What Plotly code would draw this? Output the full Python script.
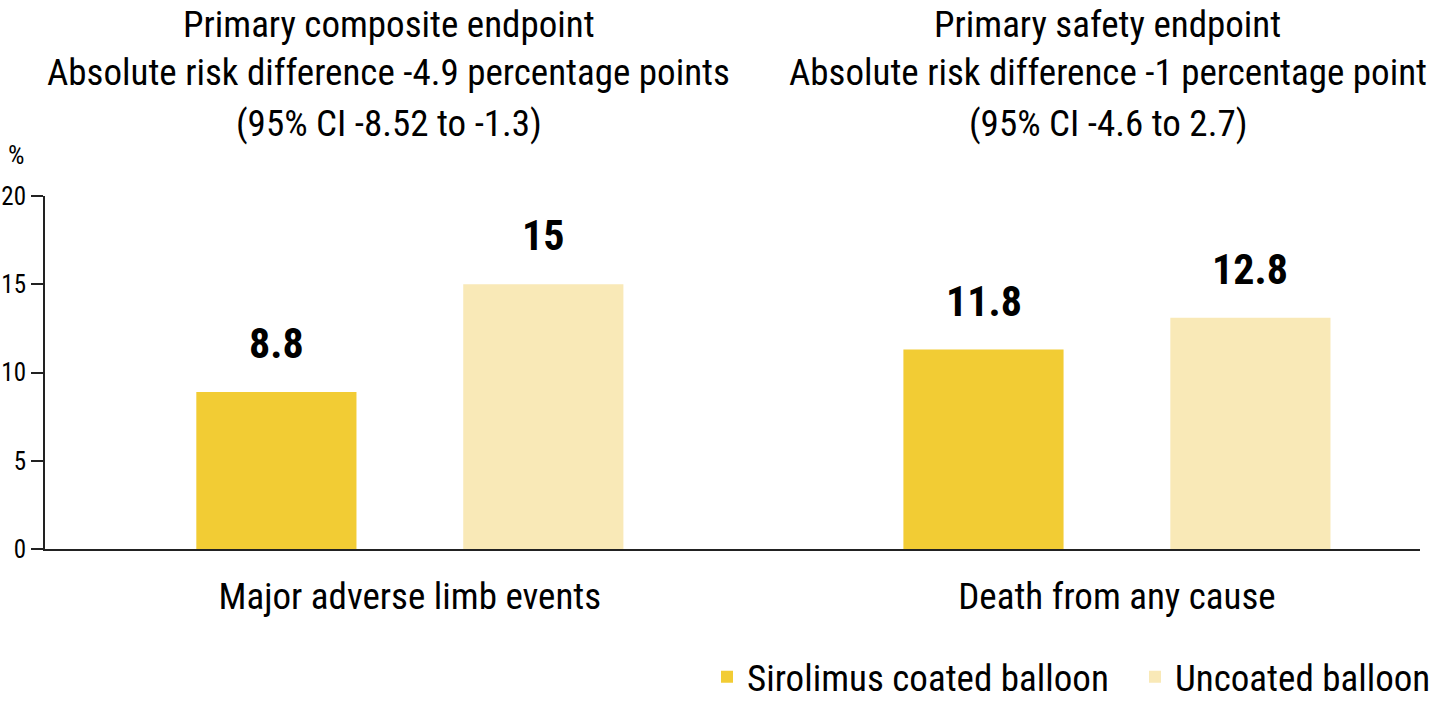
import plotly.graph_objects as go

categories = ["Major adverse limb events", "Death from any cause"]
series_names = ["Sirolimus coated balloon", "Uncoated balloon"]
sirolimus_values = [8.9, 11.3]
uncoated_values = [15.0, 13.1]
sirolimus_labels = ["8.8", "11.8"]
uncoated_labels = ["15", "12.8"]
y_ticks = [0, 5, 10, 15, 20]

titles = [
    ["Primary composite endpoint",
     "Absolute risk difference -4.9 percentage points",
     "(95% CI -8.52 to -1.3)"],
    ["Primary safety endpoint",
     "Absolute risk difference -1 percentage point",
     "(95% CI -4.6 to 2.7)"],
]

FONT = "Roboto Condensed, DejaVu Sans Condensed, sans-serif"
colors = ["#F2CC34", "#F9E9B7"]
BAR_SHIFT = 133  # px offset of each bar from its category centre

fig = go.Figure()
series = [
    (series_names[0], sirolimus_values, sirolimus_labels, colors[0], -BAR_SHIFT),
    (series_names[1], uncoated_values, uncoated_labels, colors[1], BAR_SHIFT),
]
for name, vals, labs, col, shift in series:
    fig.add_trace(go.Bar(
        x=categories, y=vals, name=name,
        marker=dict(color=col, line=dict(width=0)),
        hoverinfo="skip",
    ))
    for cat, v, lab in zip(categories, vals, labs):
        fig.add_annotation(x=cat, y=v, xref="x", yref="y", text=lab, showarrow=False,
                           xanchor="center", yanchor="bottom", xshift=shift, yshift=22,
                           font=dict(family=FONT, size=42, color="#000000", weight="bold"))

line_y = [1.487, 1.351, 1.204]
title_x = [0.25, 0.773]
for tx, lines in zip(title_x, titles):
    for ly, t in zip(line_y, lines):
        fig.add_annotation(x=tx, y=ly, xref="paper", yref="paper", text=t,
                           showarrow=False, xanchor="center", yanchor="middle",
                           font=dict(family=FONT, size=37, color="#000000"))

fig.add_annotation(x=-0.021, y=1.116, xref="paper", yref="paper", text="%",
                   showarrow=False, xanchor="center", yanchor="middle",
                   font=dict(family=FONT, size=26, color="#000000"))

fig.update_layout(
    width=1436, height=702,
    margin=dict(l=45, r=16, t=196, b=153, autoexpand=False),
    paper_bgcolor="white", plot_bgcolor="white",
    barmode="group", bargap=0.245, bargroupgap=0.4,
    font=dict(family=FONT, color="#000000"),
    showlegend=True,
    legend=dict(orientation="h", x=1.104, xanchor="right", y=-0.363, yanchor="middle",
                font=dict(family=FONT, size=37, color="#000000"),
                entrywidth=383, entrywidthmode="pixels",
                bgcolor="rgba(0,0,0,0)",
                traceorder="normal"),
)
fig.update_xaxes(
    type="category", range=[-0.516, 1.4286], automargin=False,
    showline=True, linecolor="#222222", linewidth=2,
    ticks="outside", ticklen=14, tickcolor="rgba(0,0,0,0)",
    tickfont=dict(family=FONT, size=37, color="#000000"),
    showgrid=False, zeroline=False, fixedrange=True,
)
fig.update_yaxes(
    range=[0, 20], tickvals=y_ticks, automargin=False,
    showline=True, linecolor="#222222", linewidth=2,
    ticks="outside", ticklen=12, tickwidth=2, tickcolor="#222222",
    tickfont=dict(family=FONT, size=25, color="#000000"),
    showgrid=False, zeroline=False, fixedrange=True,
)

fig.write_html("out.html", config={"displayModeBar": False})
